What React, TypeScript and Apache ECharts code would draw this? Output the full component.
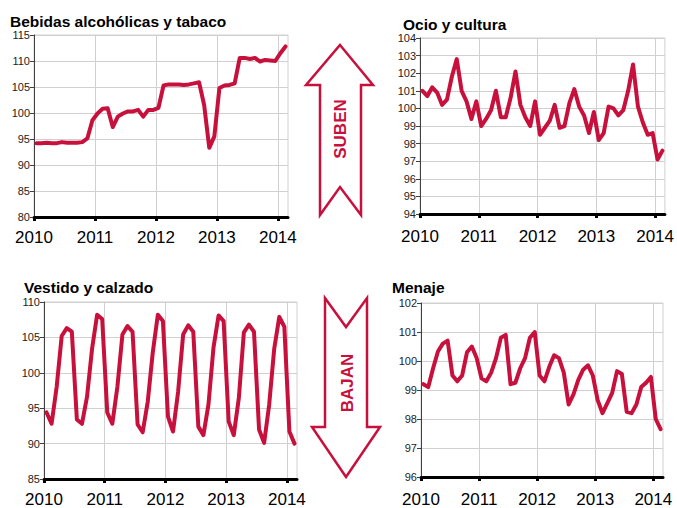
import React, { useEffect, useRef } from 'react';
import * as echarts from 'echarts';

// Monthly index values, Jan 2010 .. Feb 2014 (50 months)
const yearLabels = ['2010', '2011', '2012', '2013', '2014'];
const yearTickMonths = [0, 12, 24, 36, 48];

const bebidas = [
  94.2, 94.2, 94.3, 94.2, 94.2, 94.4, 94.3, 94.3, 94.3, 94.4,
  95.1, 98.6, 99.9, 100.8, 100.9, 97.3, 99.3, 99.9, 100.3, 100.3,
  100.6, 99.3, 100.6, 100.6, 101.0, 105.3, 105.5, 105.5, 105.5, 105.4,
  105.5, 105.7, 105.9, 101.5, 93.3, 95.5, 104.8, 105.3, 105.4, 105.7,
  110.6, 110.6, 110.4, 110.6, 109.9, 110.2, 110.1, 110.0, 111.5, 112.8,
];
const ocio = [
  101.0, 100.7, 101.2, 100.9, 100.2, 100.5, 101.8, 102.8, 101.0, 100.4,
  99.4, 100.4, 99.0, 99.4, 99.9, 101.0, 99.5, 99.5, 100.6, 102.1,
  100.2, 99.5, 99.0, 100.4, 98.5, 98.9, 99.3, 100.2, 98.9, 99.0,
  100.3, 101.1, 100.1, 99.6, 98.6, 99.8, 98.2, 98.6, 100.1, 100.0,
  99.6, 99.9, 101.0, 102.5, 100.1, 99.2, 98.5, 98.6, 97.1, 97.6,
];
const vestido = [
  94.4, 92.8, 98.0, 105.2, 106.3, 105.8, 93.4, 92.8, 96.6, 103.4,
  108.2, 107.6, 94.4, 92.8, 98.0, 105.4, 106.6, 105.8, 92.7, 91.6,
  95.9, 102.9, 108.2, 107.3, 93.8, 91.7, 97.3, 105.4, 106.7, 105.8,
  92.4, 91.2, 95.5, 103.6, 108.1, 107.3, 93.1, 91.2, 96.4, 105.7,
  106.8, 105.8, 92.0, 90.1, 95.5, 103.4, 107.9, 106.5, 91.7, 90.0,
];
const menaje = [
  99.2, 99.1, 99.75, 100.33, 100.6, 100.7, 99.5, 99.3, 99.5, 100.3,
  100.5, 100.1, 99.4, 99.3, 99.6, 100.1, 100.8, 100.9, 99.2, 99.25,
  99.75, 100.1, 100.8, 101.0, 99.5, 99.3, 99.8, 100.2, 100.1, 99.6,
  98.5, 98.85, 99.35, 99.7, 99.85, 99.5, 98.65, 98.2, 98.55, 98.9,
  99.65, 99.55, 98.25, 98.2, 98.5, 99.1, 99.25, 99.45, 98.0, 97.65,
];

const titles = ['Bebidas alcohólicas y tabaco', 'Ocio y cultura', 'Vestido y calzado', 'Menaje'];
const seriesValues = [bebidas, ocio, vestido, menaje];
const yMins = [80, 94, 85, 96];
const yMaxs = [115, 104, 110, 102];
const ySteps = [5, 1, 5, 1];

const RED = '#C8103C';
const FONT = '"Liberation Sans", Arial, sans-serif';

export default function App() {
  const ref = useRef<HTMLDivElement>(null);
  useEffect(() => {
    document.body.style.margin = '0';
    if (!ref.current) return;
    const chart = echarts.init(ref.current, null, { renderer: 'svg' });

    const grids = [
      { left: 34, top: 35, width: 254, height: 182 },
      { left: 420, top: 38, width: 245, height: 176 },
      { left: 44, top: 302, width: 253, height: 180 },
      { left: 421, top: 303, width: 242, height: 174 },
    ];
    const titlePos = [
      { left: 10, top: 13 },
      { left: 403, top: 16 },
      { left: 24, top: 279 },
      { left: 392, top: 279 },
    ];
    const xMargins = [12, 14, 12, 14];

    const option: any = {
      animation: false,
      backgroundColor: '#ffffff',
      textStyle: { fontFamily: FONT },
      title: titles.map((t, i) => ({
        text: t,
        left: titlePos[i].left,
        top: titlePos[i].top,
        padding: 0,
        textStyle: { fontFamily: FONT, fontSize: 15.5, fontWeight: 'bold', color: '#000' },
      })),
      grid: grids.map((g) => ({
        ...g,
        show: true,
        borderColor: '#d0d0d0',
        borderWidth: 1,
        backgroundColor: 'transparent',
      })),
      xAxis: grids.map((_, i) => ({
        type: 'value',
        gridIndex: i,
        min: 0,
        max: 50,
        interval: 12,
        axisLine: { show: true, onZero: false, lineStyle: { color: '#000', width: 3 } },
        axisTick: {
          show: true,
          length: 4,
          customValues: yearTickMonths,
          lineStyle: { color: '#000', width: 3 },
        },
        axisLabel: {
          customValues: yearTickMonths,
          formatter: (v: number) => (v % 12 === 0 ? yearLabels[v / 12] ?? '' : ''),
          fontSize: 17,
          color: '#000',
          fontFamily: FONT,
          margin: xMargins[i],
        },
        splitLine: { show: true, lineStyle: { color: '#d0d0d0', width: 1 } },
      })),
      yAxis: grids.map((_, i) => ({
        type: 'value',
        gridIndex: i,
        min: yMins[i],
        max: yMaxs[i],
        interval: ySteps[i],
        axisLine: { show: true, lineStyle: { color: '#404040', width: 1 } },
        axisTick: { show: true, length: 4, lineStyle: { color: '#404040' } },
        axisLabel: { fontSize: 11, color: '#222', fontFamily: FONT, margin: 4 },
        splitLine: { show: true, lineStyle: { color: '#d0d0d0', width: 1 } },
      })),
      series: seriesValues.map((vals, i) => ({
        type: 'line',
        xAxisIndex: i,
        yAxisIndex: i,
        data: vals.map((v, k) => [k + 0.5, v]),
        showSymbol: false,
        symbol: 'none',
        lineStyle: { color: RED, width: 4, join: 'round', cap: 'round' },
        z: 5,
      })),
      graphic: [
        {
          type: 'polygon',
          shape: {
            points: [
              [340, 45], [373, 85], [361, 85], [361, 215],
              [340, 187], [320, 215], [320, 85], [306, 85],
            ],
          },
          style: { fill: '#fff', stroke: RED, lineWidth: 2.5 },
        },
        {
          type: 'text',
          x: 340,
          y: 129,
          rotation: Math.PI / 2,
          style: {
            text: 'SUBEN',
            fill: RED,
            font: 'bold 17px "Liberation Sans", Arial, sans-serif',
            textAlign: 'center',
            textVerticalAlign: 'middle',
          },
        },
        {
          type: 'polygon',
          shape: {
            points: [
              [325, 298], [346, 327], [367, 298], [367, 427],
              [380, 427], [346, 477], [312, 427], [325, 427],
            ],
          },
          style: { fill: '#fff', stroke: RED, lineWidth: 2.5 },
        },
        {
          type: 'text',
          x: 347,
          y: 383,
          rotation: Math.PI / 2,
          style: {
            text: 'BAJAN',
            fill: RED,
            font: 'bold 17px "Liberation Sans", Arial, sans-serif',
            textAlign: 'center',
            textVerticalAlign: 'middle',
          },
        },
      ],
    };
    chart.setOption(option);
    return () => chart.dispose();
  }, []);
  return (
    <div
      ref={ref}
      style={{ position: 'fixed', left: 0, top: 0, width: 677, height: 508 }}
    />
  );
}
